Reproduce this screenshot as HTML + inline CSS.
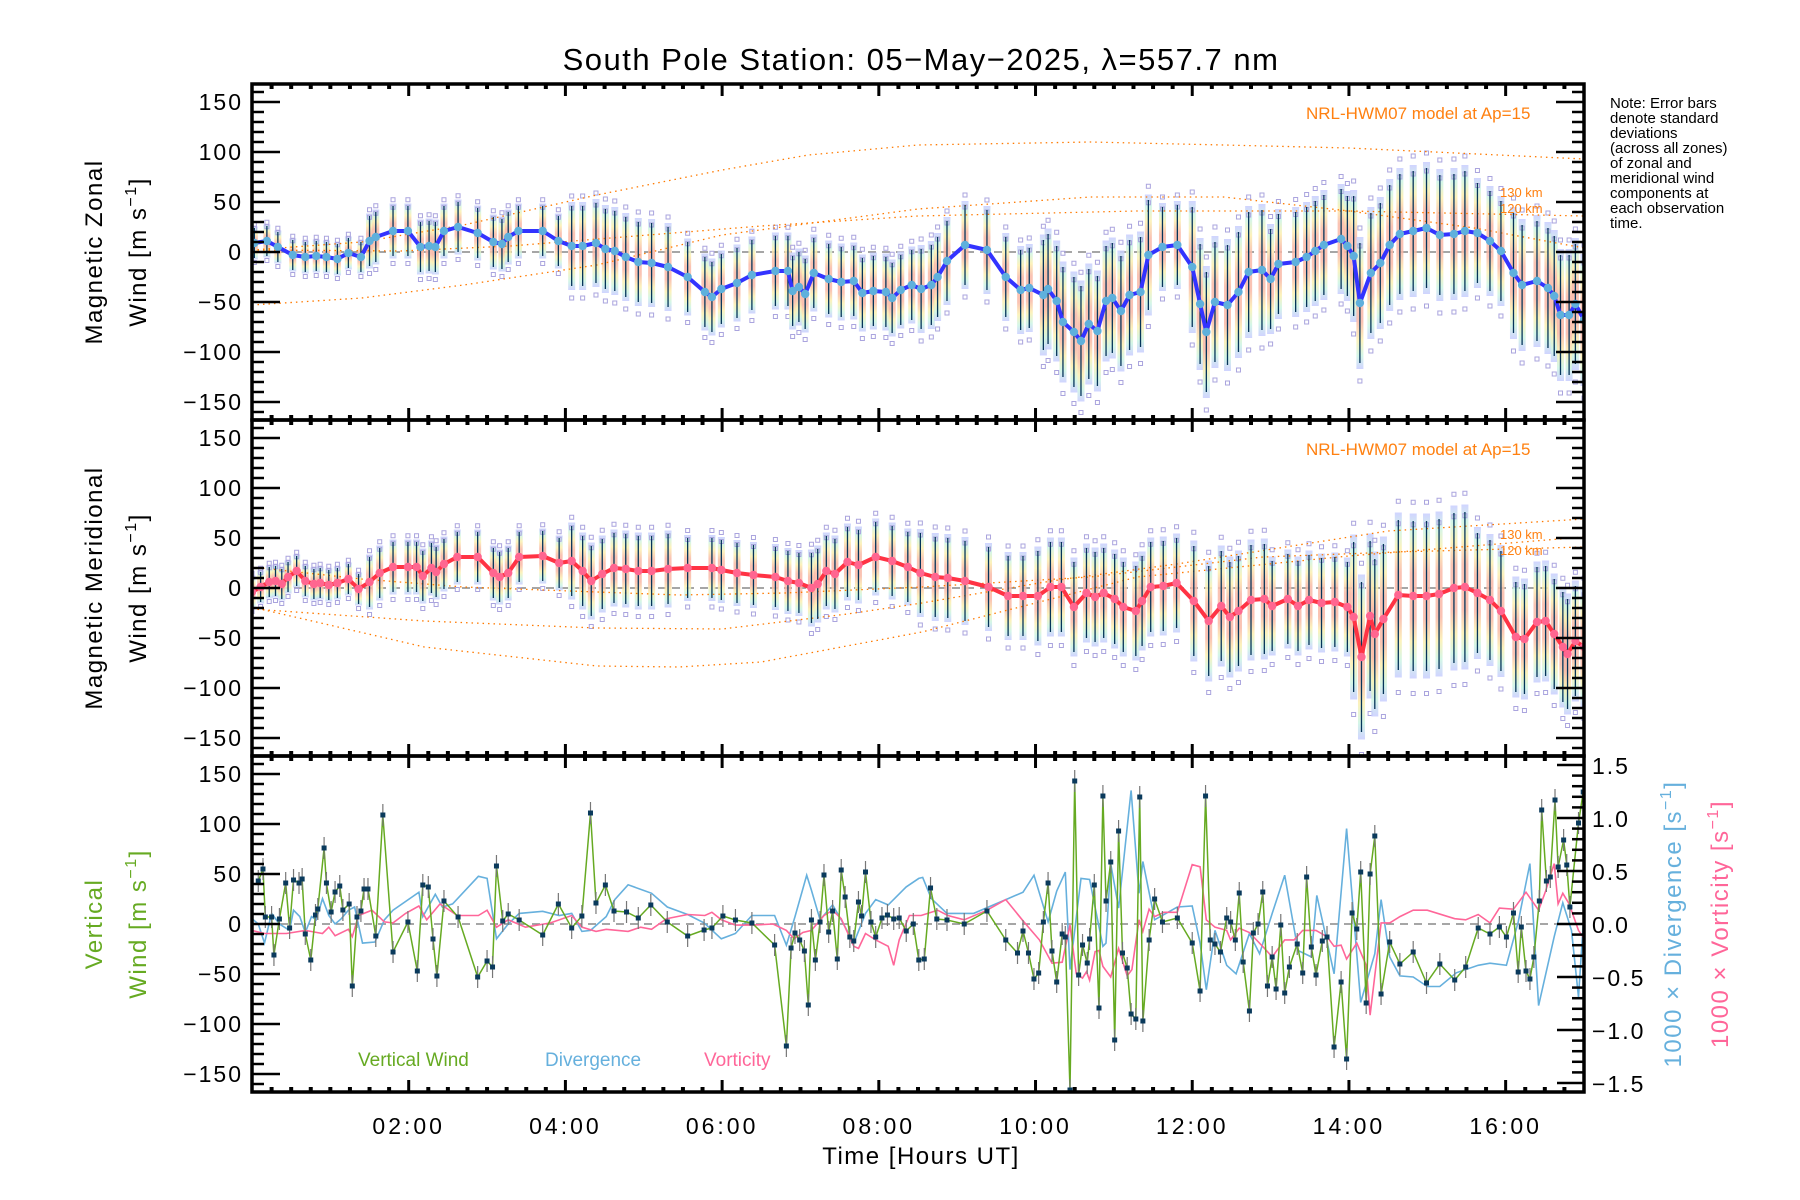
<!DOCTYPE html>
<html><head><meta charset="utf-8"><style>
html,body{margin:0;padding:0;background:#fff}
svg{display:block}
text{font-family:"Liberation Sans",sans-serif}
</style></head><body>
<svg id="chart" width="1800" height="1200" viewBox="0 0 1800 1200" xmlns="http://www.w3.org/2000/svg">
<defs>
<linearGradient id="band" x1="0" y1="0" x2="0" y2="1">
<stop offset="0" stop-color="#c8ccff"/><stop offset="0.1" stop-color="#ccf4e4"/><stop offset="0.22" stop-color="#fbf0b0"/><stop offset="0.36" stop-color="#f9b8a6"/><stop offset="0.64" stop-color="#f9b8a6"/><stop offset="0.78" stop-color="#fbf0b0"/><stop offset="0.9" stop-color="#ccf4e4"/><stop offset="1" stop-color="#c8ccff"/>
</linearGradient>
<clipPath id="c1"><rect x="252" y="84" width="1332" height="336"/></clipPath>
<clipPath id="c2"><rect x="252" y="420" width="1332" height="336"/></clipPath>
<clipPath id="c3"><rect x="252" y="756" width="1332" height="336"/></clipPath>
</defs>
<text x="921" y="70" font-size="31" text-anchor="middle" letter-spacing="1.5">South Pole Station: 05−May−2025, λ=557.7 nm</text>
<g id="g1" clip-path="url(#c1)"></g>
<g id="g2" clip-path="url(#c2)"></g>
<g id="g3" clip-path="url(#c3)"></g>
<g id="axes"></g>
<g font-size="15">
<text x="1610" y="108">Note: Error bars</text><text x="1610" y="123">denote standard</text><text x="1610" y="138">deviations</text><text x="1610" y="153">(across all zones)</text><text x="1610" y="168">of zonal and</text><text x="1610" y="183">meridional wind</text><text x="1610" y="198">components at</text><text x="1610" y="213">each observation</text><text x="1610" y="228">time.</text>
</g>
<g fill="#ff8010">
<text x="1306" y="119" font-size="17">NRL-HWM07 model at Ap=15</text>
<text x="1500" y="197" font-size="13">130 km</text>
<text x="1500" y="213" font-size="13">120 km</text>
<text x="1306" y="455" font-size="17">NRL-HWM07 model at Ap=15</text>
<text x="1500" y="539" font-size="13">130 km</text>
<text x="1500" y="555" font-size="13">120 km</text>
</g>
<g font-size="19">
<text x="358" y="1066" fill="#66aa22">Vertical Wind</text>
<text x="545" y="1066" fill="#66b0dd">Divergence</text>
<text x="704" y="1066" fill="#ff6699">Vorticity</text>
</g>
<g font-size="24" letter-spacing="1.5">
<text transform="translate(102,252) rotate(-90)" text-anchor="middle">Magnetic Zonal</text>
<text transform="translate(146,252) rotate(-90)" text-anchor="middle">Wind [m s<tspan dy="-10" font-size="16">−1</tspan><tspan dy="10">]</tspan></text>
<text transform="translate(102,588) rotate(-90)" text-anchor="middle">Magnetic Meridional</text>
<text transform="translate(146,588) rotate(-90)" text-anchor="middle">Wind [m s<tspan dy="-10" font-size="16">−1</tspan><tspan dy="10">]</tspan></text>
<text transform="translate(102,924) rotate(-90)" text-anchor="middle" fill="#66aa22">Vertical</text>
<text transform="translate(146,924) rotate(-90)" text-anchor="middle" fill="#66aa22">Wind [m s<tspan dy="-10" font-size="16">−1</tspan><tspan dy="10">]</tspan></text>
<text transform="translate(1681,924) rotate(-90)" text-anchor="middle" fill="#66b0dd">1000 × Divergence [s<tspan dy="-10" font-size="16">−1</tspan><tspan dy="10">]</tspan></text>
<text transform="translate(1728,924) rotate(-90)" text-anchor="middle" fill="#ff6699">1000 × Vorticity [s<tspan dy="-10" font-size="16">−1</tspan><tspan dy="10">]</tspan></text>
<text x="921" y="1164" text-anchor="middle">Time [Hours UT]</text>
</g>
</svg>
<script>
// ---------- data ----------
const zonalT=[0.03,0.19,0.33,0.52,0.68,0.82,0.95,1.09,1.23,1.39,1.5,1.58,1.8,1.99,2.15,2.26,2.34,2.45,2.63,2.88,3.08,3.19,3.27,3.4,3.71,3.91,4.08,4.22,4.39,4.51,4.63,4.77,4.93,5.1,5.31,5.56,5.78,5.87,5.99,6.19,6.38,6.68,6.84,6.9,6.98,7.06,7.17,7.36,7.52,7.68,7.79,7.93,8.09,8.17,8.28,8.42,8.54,8.67,8.75,8.87,9.1,9.38,9.62,9.81,9.92,10.1,10.16,10.27,10.35,10.49,10.58,10.68,10.79,10.9,10.98,11.09,11.2,11.34,11.44,11.62,11.81,12,12.1,12.18,12.29,12.45,12.59,12.72,12.89,13,13.1,13.32,13.46,13.57,13.68,13.9,13.98,14.06,14.14,14.28,14.4,14.52,14.65,14.82,14.99,15.16,15.34,15.48,15.64,15.8,15.94,16.1,16.21,16.4,16.54,16.62,16.7,16.81,16.89,17];
const zonalV=[9,11,5,-3,-5,-4,-5,-7,-1,-5,11,15,21,21,5,6,5,21,25,19,10,8,15,21,21,11,6,6,9,3,1,-5,-10,-11,-15,-25,-40,-45,-37,-31,-23,-19,-19,-39,-35,-42,-21,-27,-30,-29,-41,-39,-40,-46,-38,-33,-37,-33,-25,-9,7,2,-25,-38,-36,-43,-37,-49,-70,-80,-89,-72,-79,-49,-46,-59,-43,-40,-3,5,7,-15,-52,-80,-50,-53,-40,-20,-18,-27,-12,-10,-5,1,7,13,6,-4,-51,-21,-11,7,18,21,24,17,18,21,19,11,1,-21,-33,-29,-36,-44,-63,-63,-52,-68];
const merT=[0,0.11,0.22,0.3,0.38,0.46,0.57,0.68,0.79,0.87,0.98,1.09,1.23,1.36,1.5,1.63,1.8,1.99,2.1,2.18,2.29,2.35,2.45,2.62,2.88,3.08,3.16,3.27,3.41,3.71,3.92,4.08,4.22,4.33,4.47,4.62,4.77,4.93,5.1,5.31,5.56,5.87,5.99,6.19,6.4,6.68,6.84,6.98,7.14,7.22,7.33,7.44,7.6,7.74,7.96,8.17,8.37,8.53,8.72,8.88,9.1,9.4,9.65,9.84,10.03,10.19,10.33,10.49,10.65,10.76,10.87,11.01,11.12,11.28,11.36,11.47,11.63,11.8,12.02,12.21,12.37,12.48,12.59,12.75,12.92,13.02,13.22,13.35,13.49,13.65,13.82,13.98,14.06,14.16,14.27,14.33,14.44,14.63,14.82,14.99,15.15,15.34,15.48,15.64,15.8,15.94,16.13,16.24,16.4,16.51,16.62,16.73,16.79,16.89,17];
const merV=[-4,1,6,7,4,11,17,7,4,5,3,5,9,-1,6,15,21,21,21,12,20,16,24,31,31,15,11,15,31,32,25,27,17,7,14,20,19,17,17,19,20,20,18,15,13,11,7,5,0,4,17,14,26,23,31,27,21,15,11,10,7,1,-8,-8,-8,1,1,-19,-5,-9,-5,-11,-19,-23,-13,1,2,5,-13,-33,-18,-29,-23,-12,-11,-18,-11,-18,-12,-15,-14,-19,-29,-69,-28,-46,-31,-7,-8,-8,-6,0,1,-5,-12,-23,-49,-51,-34,-33,-46,-59,-66,-53,-59];
const sdBreaks=[0,1.5,4,5.5,7,8.5,10,11.5,12,13,14,15.5,16];
const sdZonal=[15,25,40,35,35,40,55,40,60,50,60,50,60];
const sdMerid=[15,25,35,30,35,40,45,45,55,45,75,60,55];
const hwmZ1T=[0,1.4,2.7,4.4,6,7.1,8.5,10.7,12.4,14,17], hwmZ1V=[2,10,27,57,82,97,107,110,107,104,93];
const hwmZ2T=[0,1.9,3.3,4.9,6.5,8.5,11.3,14,17], hwmZ2V=[2,1,6,16,26,36,41,41,36];
const hwmZ3T=[0,1.4,2.7,4.4,6,8.5,10.7,12.4,14,15.6,17], hwmZ3V=[-53,-46,-33,-13,17,43,55,55,41,24,4];
const hwmM1T=[0,2.2,4.4,6,7.6,8.55,10.2,11.8,14.5,17], hwmM1V=[-21,-33,-40,-41,-26,-15,7,24,57,69];
const hwmM2T=[0,0.16,2.2,4.4,5.45,6.5,8.55,11.3,14,17], hwmM2V=[-18,-22,-59,-78,-79,-74,-44,11,32,51];
const hwmM3T=[0,1.4,2.7,4.4,5.45,6.8,8.55,10.7,12.9,14.6,17], hwmM3V=[21,9,1,-4,-7,-5,1,11,31,36,41];
const vwT=[0.08,0.14,0.17,0.25,0.28,0.35,0.43,0.48,0.53,0.6,0.64,0.68,0.75,0.81,0.84,0.92,0.95,1.01,1.06,1.12,1.16,1.24,1.28,1.34,1.39,1.43,1.48,1.58,1.67,1.8,1.99,2.11,2.18,2.25,2.31,2.36,2.45,2.63,2.88,3.0,3.07,3.12,3.2,3.27,3.41,3.71,3.91,4.08,4.21,4.32,4.39,4.51,4.62,4.78,4.93,5.09,5.3,5.56,5.77,5.87,6.01,6.17,6.38,6.67,6.82,6.88,6.93,6.99,7.05,7.1,7.14,7.19,7.25,7.3,7.36,7.41,7.47,7.52,7.57,7.63,7.68,7.74,7.78,7.83,7.9,7.96,8.04,8.11,8.19,8.26,8.35,8.44,8.51,8.58,8.66,8.74,8.87,9.09,9.38,9.62,9.77,9.84,9.91,9.98,10.04,10.1,10.16,10.21,10.27,10.34,10.38,10.44,10.5,10.55,10.6,10.66,10.69,10.75,10.81,10.86,10.9,10.96,11.01,11.06,11.11,11.17,11.22,11.28,11.33,11.37,11.45,11.52,11.62,11.81,12.0,12.1,12.17,12.23,12.29,12.36,12.44,12.49,12.55,12.6,12.65,12.73,12.78,12.84,12.9,12.96,13.02,13.07,13.13,13.18,13.24,13.34,13.41,13.46,13.52,13.58,13.66,13.72,13.81,13.9,13.97,14.04,14.1,14.15,14.22,14.27,14.33,14.41,14.52,14.65,14.82,14.99,15.16,15.35,15.49,15.65,15.8,15.92,16.01,16.1,16.16,16.2,16.26,16.31,16.36,16.43,16.46,16.52,16.57,16.63,16.67,16.74,16.78,16.82,16.93,16.99,17.05];
const vwV=[43,55,7,7,-31,5,41,-4,44,41,45,-10,-36,9,15,76,41,12,32,38,14,20,-62,7,13,35,35,-12,109,-28,2,-47,39,37,-15,-52,23,7,-53,-37,-43,58,3,10,4,-11,20,-4,8,111,21,39,13,12,6,19,2,-12,-6,-4,8,4,1,-21,-122,-24,-9,-16,-27,-81,4,-36,2,49,-8,13,-35,54,27,-13,-17,22,8,52,2,-13,6,9,5,6,-7,0,-36,-35,36,5,4,0,13,-16,-29,-7,-29,-55,-49,2,41,-27,-58,-10,-13,-166,143,-51,-21,-39,-15,39,-84,128,23,62,-116,93,-29,-44,-90,-95,127,-97,-16,25,2,6,-19,-67,128,-16,-20,-28,6,2,-16,31,-38,-87,-9,0,32,-62,-33,-65,-1,-69,-43,-20,-49,47,-23,-51,-17,-13,-123,-58,-135,11,-5,52,-79,50,88,-70,-18,-40,-28,-59,-40,-56,-43,-4,-10,-3,-13,11,-48,-3,-47,-55,-33,23,114,43,47,124,57,84,59,17,101,132,167];
const divT=[0,0.08,0.16,0.25,0.35,0.48,0.53,0.61,0.68,0.76,0.82,0.9,0.98,1.06,1.14,1.23,1.31,1.41,1.57,1.69,1.8,2.13,2.18,2.34,2.43,2.56,2.89,3.0,3.12,3.27,3.41,3.71,3.92,4.08,4.21,4.32,4.52,4.63,4.8,5.1,5.3,5.56,5.77,5.99,6.17,6.38,6.67,6.82,6.93,7.08,7.14,7.25,7.41,7.52,7.68,7.83,7.96,8.12,8.35,8.51,8.56,8.67,8.87,9.21,9.62,9.84,9.98,10.16,10.27,10.38,10.44,10.58,10.69,10.86,10.9,10.96,11.06,11.22,11.32,11.37,11.52,11.81,12.0,12.1,12.18,12.29,12.44,12.56,12.73,12.86,13.02,13.18,13.35,13.52,13.59,13.81,13.97,14.15,14.33,14.41,14.52,14.65,14.82,15.0,15.16,15.37,15.65,15.8,16.01,16.16,16.31,16.42,16.62,16.73,16.84,16.93,17.06];
const divV=[0.05,0,-0.18,0.1,0,-0.06,0.13,0.07,-0.08,0.07,0.04,0.24,0.08,0,0.05,0.13,0.16,-0.18,-0.17,0.04,0.13,0.3,0.07,0.28,0.16,0.19,0.45,0.43,-0.14,0,0.1,0.12,0.08,0.1,-0.07,-0.06,0.07,0.23,0.37,0.29,0.16,0.09,0.01,-0.14,-0.09,0.08,0.08,-0.2,0.07,0.46,0.32,0.04,0.18,0.04,-0.18,0.1,0.23,0.18,0.35,0.43,0.44,0.24,0.1,0.1,0.23,0.3,0.46,0.02,0.31,0.49,-0.43,0.43,0.42,-0.21,-0.18,0.57,0.15,1.26,0.29,0.59,0.04,0.16,0.17,-0.18,-0.62,-0.06,-0.39,-0.47,-0.09,-0.28,0.1,0.46,-0.25,-0.31,0.27,-0.47,0.9,-0.74,-0.28,0.23,-0.31,-0.49,-0.5,-0.59,-0.59,-0.46,-0.39,-0.37,-0.39,0.02,0.57,-0.77,-0.12,0.2,-0.06,-0.69,0.79];
const vorT=[0,0.16,0.44,0.68,0.9,0.98,1.06,1.23,1.28,1.36,1.53,1.69,1.8,1.96,2.13,2.23,2.4,2.62,2.89,3.0,3.12,3.27,3.49,3.81,4.08,4.21,4.39,4.52,4.8,4.96,5.1,5.29,5.56,5.78,5.87,5.99,6.17,6.38,6.65,6.82,6.92,7.03,7.14,7.3,7.41,7.52,7.68,7.74,7.83,7.96,8.12,8.19,8.26,8.39,8.54,8.75,8.88,9.09,9.38,9.62,9.84,10.05,10.21,10.34,10.44,10.52,10.6,10.65,10.69,10.76,10.81,10.86,10.96,11.06,11.17,11.23,11.32,11.37,11.45,11.52,11.64,11.81,12.0,12.1,12.18,12.29,12.44,12.49,12.6,12.73,12.91,13.02,13.18,13.3,13.41,13.58,13.72,13.81,13.9,13.97,14.1,14.22,14.27,14.41,14.52,14.65,14.82,15.0,15.35,15.49,15.65,15.8,15.92,16.1,16.26,16.42,16.51,16.62,16.67,16.73,16.81,16.93,17.06];
const vorV=[-0.06,-0.09,-0.09,-0.06,-0.09,-0.03,-0.11,-0.05,-0.12,0.08,0.13,0.02,0.01,0.1,0.17,0.04,0.19,0.08,0.08,0.13,-0.03,0.04,-0.03,0.01,0.08,-0.03,-0.07,-0.05,-0.07,-0.03,-0.05,0.05,0.09,0.08,0.11,0.04,-0.01,-0.01,0,-0.06,-0.14,-0.08,-0.06,0.08,0.13,0.05,-0.21,-0.23,-0.09,-0.15,-0.21,-0.39,-0.15,0.08,0.08,0.13,0.08,0.04,0.13,0.23,0.03,-0.15,-0.37,-0.36,-0.01,-0.47,-0.51,-0.45,-0.53,-0.26,-0.25,-0.4,-0.5,-0.23,-0.49,-0.43,0.04,-0.07,0.14,0.07,0.11,0.11,0.56,0.54,0.04,-0.03,-0.06,-0.15,-0.04,-0.08,-0.22,-0.31,-0.15,-0.15,-0.06,-0.06,-0.12,-0.21,-0.2,-0.33,-0.18,-0.39,-0.86,0.01,0.01,0.07,0.13,0.13,0.05,0.04,0.09,0.01,0.15,0.14,0.3,0.13,0.31,0.57,0.19,0.29,0.19,-0.06,-0.2];
const xTickHours=[2,4,6,8,10,12,14,16];
const xTickLabels=["02:00","04:00","06:00","08:00","10:00","12:00","14:00","16:00"];
const yTickVals=[150,100,50,0,-50,-100,-150];
const rTickVals=[1.5,1.0,0.5,0.0,-0.5,-1.0,-1.5];

// ---------- scales ----------
const NS="http://www.w3.org/2000/svg";
const X0=252,X1=1584,TMAX=17;
const xs=t=>X0+(X1-X0)*t/TMAX;
const panelTop=[84,420,756];
const ys=(v,p)=>panelTop[p]+168-v*1.0;
const yr=d=>924-d*106;
function mk(tag,attrs,parent){const e=document.createElementNS(NS,tag);for(const k in attrs)e.setAttribute(k,attrs[k]);parent.appendChild(e);return e;}
function sdAt(t,arr){let s=arr[0];for(let i=0;i<sdBreaks.length;i++)if(t>=sdBreaks[i])s=arr[i];return s;}
function poly(ts,vs,fy){return ts.map((t,i)=>xs(t).toFixed(1)+","+fy(vs[i]).toFixed(1)).join(" ");}

function horizPanel(g,p,T,V,sdArr,lineCol,markCol,models,name){
  let z=mk("line",{x1:X0,x2:X1,y1:ys(0,p),y2:ys(0,p),stroke:"#888","stroke-width":1.5,"stroke-dasharray":"8,6"},g);
  
  
  T.forEach((t,i)=>{
    const s=sdAt(t,sdArr),x=xs(t),v=V[i];
    const b=mk("rect",{x:x-3.5,y:ys(v+s*1.1,p),width:7,height:s*2.2,fill:"url(#band)",opacity:0.85},g);
    
    
    [1.25,-1.3,0.95].forEach(k=>{
      const q=mk("rect",{x:x-2,y:ys(v+s*k,p)-2,width:4,height:4,fill:"none",stroke:"#aaa4de","stroke-width":1},g);
      
      
    });
  });
  models.forEach((m,j)=>{
    const pl=mk("polyline",{points:poly(m[0],m[1],v=>ys(v,p)),fill:"none",stroke:"#ff7a00","stroke-width":1.3,"stroke-dasharray":"1.5,4"},g);
    
    
  });
  T.forEach((t,i)=>{
    const s=sdAt(t,sdArr),x=xs(t),v=V[i];
    const e=mk("line",{x1:x,x2:x,y1:ys(v+s,p),y2:ys(v-s,p),stroke:"#06355a","stroke-width":1.3},g);
    
    
  });
  const l=mk("polyline",{points:poly(T,V,v=>ys(v,p)),fill:"none",stroke:lineCol,"stroke-width":4,"stroke-linejoin":"round"},g);
  
  
  T.forEach((t,i)=>{
    const c=mk("circle",{cx:xs(t),cy:ys(V[i],p),r:4.2,fill:markCol},g);
    
    
  });
}
horizPanel(document.getElementById("g1"),0,zonalT,zonalV,sdZonal,"#3333ff","#5fb0dc",[[hwmZ1T,hwmZ1V],[hwmZ2T,hwmZ2V],[hwmZ3T,hwmZ3V]],"zonal");
horizPanel(document.getElementById("g2"),1,merT,merV,sdMerid,"#ff3344","#ff6690",[[hwmM1T,hwmM1V],[hwmM2T,hwmM2V],[hwmM3T,hwmM3V]],"meridional");

(function(){
  const g=document.getElementById("g3");
  let z=mk("line",{x1:X0,x2:X1,y1:ys(0,2),y2:ys(0,2),stroke:"#888","stroke-width":1.5,"stroke-dasharray":"8,6"},g);
  
  
  const d=mk("polyline",{points:poly(divT,divV,yr),fill:"none",stroke:"#66b0dd","stroke-width":1.6},g);
  
  
  const w=mk("polyline",{points:poly(vorT,vorV,yr),fill:"none",stroke:"#ff6699","stroke-width":1.6},g);
  
  
  const l=mk("polyline",{points:poly(vwT,vwV,v=>ys(v,2)),fill:"none",stroke:"#66aa22","stroke-width":1.5},g);
  
  
  vwT.forEach((t,i)=>{
    const x=xs(t),y=ys(vwV[i],2);
    const e=mk("line",{x1:x,x2:x,y1:y-11,y2:y+11,stroke:"#777","stroke-width":1.2},g);
    
    
    const q=mk("rect",{x:x-2.5,y:y-2.5,width:5,height:5,fill:"#0a3a5c"},g);
    
    
  });
})();

(function(){
  const g=document.getElementById("axes");
  for(let p=0;p<3;p++){
    const top=panelTop[p],bot=top+336;
    const fr=mk("rect",{x:X0,y:top,width:X1-X0,height:336,fill:"none",stroke:"#000","stroke-width":3.5},g);
    
    
    for(let v=-160;v<=160;v+=10){
      const major=v%50===0,len=major?28:12,y=ys(v,p);
      const t=mk("line",{x1:X0,x2:X0+len,y1:y,y2:y,stroke:"#000","stroke-width":2.5},g);
      
      
      if(p<2){
        const t2=mk("line",{x1:X1,x2:X1-len,y1:y,y2:y,stroke:"#000","stroke-width":2.5},g);
        
        
      }
    }
    yTickVals.forEach(v=>{
      const tx=mk("text",{x:243,y:ys(v,p)+8,"font-size":23,"text-anchor":"end","letter-spacing":2},g);
      tx.textContent=(v<0?"−":"")+Math.abs(v);
      
      
    });
    for(let k=1;k<17*4;k++){
      const t=k/4,x=xs(t),major=(k%8===0),len=major?12:5;
      const a=mk("line",{x1:x,x2:x,y1:top,y2:top+len,stroke:"#000","stroke-width":major?3:4},g);
      
      
      const b=mk("line",{x1:x,x2:x,y1:bot,y2:bot-len,stroke:"#000","stroke-width":major?3:4},g);
      
      
    }
  }
  for(let k=-15;k<=15;k++){
    const d=k/10,major=k%5===0,len=major?27:12,y=yr(d);
    const t=mk("line",{x1:X1,x2:X1-len,y1:y,y2:y,stroke:"#000","stroke-width":2.5},g);
    
    
  }
  rTickVals.forEach(d=>{
    const tx=mk("text",{x:1592,y:yr(d)+9,"font-size":23,"letter-spacing":2},g);
    tx.textContent=(d<0?"−":"")+Math.abs(d).toFixed(1);
    
    
  });
  xTickHours.forEach((h,i)=>{
    const tx=mk("text",{x:xs(h),y:1134,"font-size":23,"text-anchor":"middle","letter-spacing":3},g);
    tx.textContent=xTickLabels[i];
    
    
  });
})();
</script>
</body></html>
